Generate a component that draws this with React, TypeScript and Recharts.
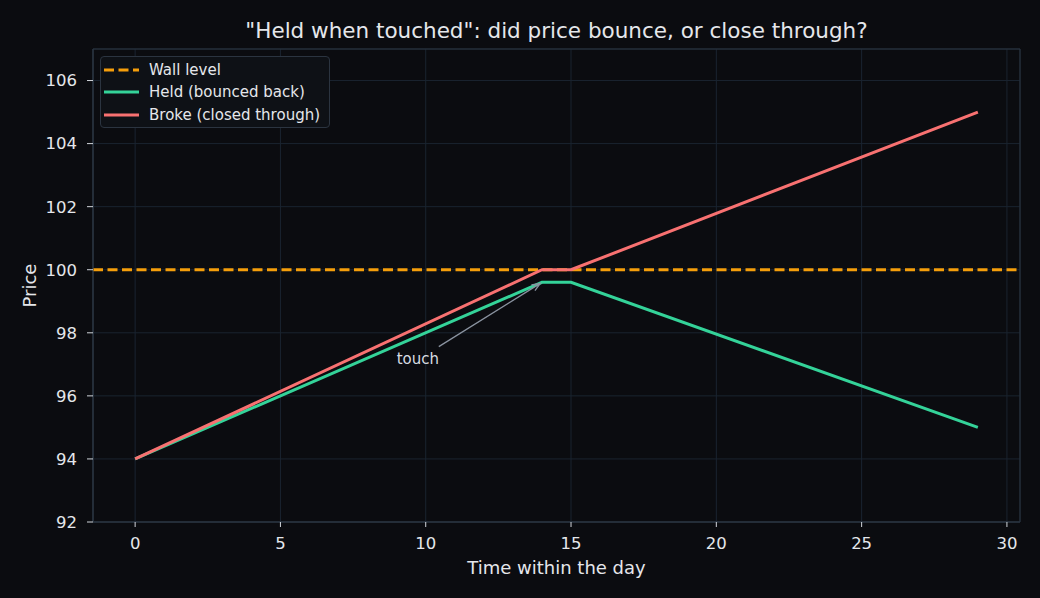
import React from "react";
import {
  CartesianGrid,
  Line,
  LineChart,
  ReferenceArea,
  ReferenceDot,
  ReferenceLine,
  XAxis,
  YAxis,
} from "recharts";

// series
const TIME = [0, 14, 15, 29];
const HELD = [94, 99.6, 99.6, 95];
const BROKE = [94, 100, 100, 105];
const WALL = 100;

// axes
const X_TICKS = [0, 5, 10, 15, 20, 25, 30];
const Y_TICKS = [92, 94, 96, 98, 100, 102, 104, 106];
const X_DOMAIN = [-1.45, 30.45];
const Y_DOMAIN = [92, 107];

// annotation
const TOUCH_TEXT = { x: 9, y: 97 };
const ARROW_FROM = { x: 10.45, y: 97.56 };
const ARROW_TO = { x: 14, y: 99.6 };

const BG = "#0b0c10";
const SPINE = "#2b3440";
const GRID = "#1a2430";
const TEXT = "#e5e7eb";
const ORANGE = "#f59e0b";
const GREEN = "#34d399";
const RED = "#f87171";
const FONT = "'DejaVu Sans', sans-serif";

const data = TIME.map((t, i) => ({ t, held: HELD[i], broke: BROKE[i] }));

function Arrow(props: any) {
  const { x1, y1, x2, y2 } = props;
  const ang = Math.atan2(y2 - y1, x2 - x1);
  const tx = x2 - Math.cos(ang) * 2;
  const ty = y2 - Math.sin(ang) * 2;
  const head = 9;
  const spread = 0.38;
  const ax = tx - Math.cos(ang - spread) * head;
  const ay = ty - Math.sin(ang - spread) * head;
  const bx = tx - Math.cos(ang + spread) * head;
  const by = ty - Math.sin(ang + spread) * head;
  return (
    <g stroke="#8a93a0" strokeWidth={1.3} fill="none">
      <line x1={x1} y1={y1} x2={tx} y2={ty} />
      <polyline points={`${ax},${ay} ${tx},${ty} ${bx},${by}`} />
    </g>
  );
}

function TouchLabel(props: any) {
  return (
    <text x={props.cx} y={props.cy} fill="#d8dce2" fontSize={15} fontFamily={FONT}>
      touch
    </text>
  );
}

const legendItems = [
  { label: "Wall level", color: ORANGE, dash: "10 4.5" },
  { label: "Held (bounced back)", color: GREEN, dash: undefined },
  { label: "Broke (closed through)", color: RED, dash: undefined },
];

export default function App() {
  return (
    <div
      style={{
        position: "absolute",
        left: 0,
        top: 0,
        width: 1040,
        height: 598,
        background: BG,
        fontFamily: FONT,
        color: TEXT,
      }}
    >
      <div
        style={{
          position: "absolute",
          left: 93,
          width: 927,
          top: 19,
          textAlign: "center",
          fontSize: 21.5,
          lineHeight: "24px",
        }}
      >
        "Held when touched": did price bounce, or close through?
      </div>

      <LineChart
        width={1040}
        height={598}
        data={data}
        margin={{ top: 49, right: 20, bottom: 0, left: 0 }}
      >
        <CartesianGrid stroke={GRID} strokeWidth={1} />
        <XAxis
          dataKey="t"
          type="number"
          domain={X_DOMAIN}
          ticks={X_TICKS}
          allowDataOverflow
          height={76}
          stroke={SPINE}
          tick={{ fill: TEXT, fontSize: 16.5 }}
          tickLine={{ stroke: "#d1d5db" }}
          tickSize={5}
          tickMargin={10}
          label={{
            content: ({ viewBox }: any) => (
              <text
                x={viewBox.x + viewBox.width / 2}
                y={574}
                textAnchor="middle"
                fill={TEXT}
                fontSize={18}
                fontFamily={FONT}
              >
                Time within the day
              </text>
            ),
          }}
        />
        <YAxis
          type="number"
          domain={Y_DOMAIN}
          ticks={Y_TICKS}
          allowDataOverflow
          width={93}
          stroke={SPINE}
          tick={{ fill: TEXT, fontSize: 16.5 }}
          tickLine={{ stroke: "#d1d5db" }}
          tickSize={6}
          tickMargin={10}
          label={{
            content: ({ viewBox }: any) => {
              const cy = viewBox.y + viewBox.height / 2;
              return (
                <text
                  x={36}
                  y={cy}
                  transform={`rotate(-90, 36, ${cy})`}
                  textAnchor="middle"
                  fill={TEXT}
                  fontSize={18}
                  fontFamily={FONT}
                >
                  Price
                </text>
              );
            },
          }}
        />
        <ReferenceArea
          x1={X_DOMAIN[0]}
          x2={X_DOMAIN[1]}
          y1={Y_DOMAIN[0]}
          y2={Y_DOMAIN[1]}
          fill="none"
          fillOpacity={0}
          stroke={SPINE}
          strokeWidth={1}
        />
        <ReferenceLine
          y={WALL}
          stroke={ORANGE}
          strokeWidth={3}
          strokeDasharray="10 4.5"
        />
        <Line
          type="linear"
          dataKey="held"
          stroke={GREEN}
          strokeWidth={3}
          dot={false}
          isAnimationActive={false}
        />
        <Line
          type="linear"
          dataKey="broke"
          stroke={RED}
          strokeWidth={3}
          dot={false}
          isAnimationActive={false}
        />
        <ReferenceLine
          segment={[ARROW_FROM, ARROW_TO]}
          shape={(p: any) => <Arrow {...p} />}
        />
        <ReferenceDot
          x={TOUCH_TEXT.x}
          y={TOUCH_TEXT.y}
          r={0}
          shape={(p: any) => <TouchLabel {...p} />}
        />
      </LineChart>

      <div
        style={{
          position: "absolute",
          left: 100,
          top: 56,
          width: 230,
          height: 72,
          boxSizing: "border-box",
          border: `1px solid ${SPINE}`,
          borderRadius: 4,
          background: "#0e1116",
        }}
      >
        {legendItems.map((it, i) => (
          <div
            key={it.label}
            style={{
              position: "absolute",
              left: 3,
              top: 12.5 + i * 22.5 - 10,
              height: 20,
              display: "flex",
              alignItems: "center",
              whiteSpace: "nowrap",
            }}
          >
            <svg width={35} height={20}>
              <line
                x1={0}
                y1={10}
                x2={35}
                y2={10}
                stroke={it.color}
                strokeWidth={3}
                strokeDasharray={it.dash}
              />
            </svg>
            <span style={{ marginLeft: 10, fontSize: 15, color: TEXT }}>
              {it.label}
            </span>
          </div>
        ))}
      </div>
    </div>
  );
}
